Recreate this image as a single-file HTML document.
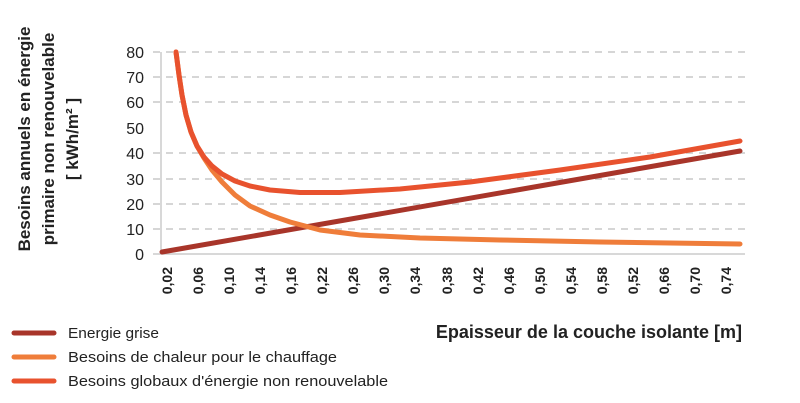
<!DOCTYPE html>
<html><head><meta charset="utf-8"><style>
html,body{margin:0;padding:0;background:#fff;}
svg{display:block;font-family:"Liberation Sans",sans-serif;}
</style></head><body>
<svg width="800" height="403" viewBox="0 0 800 403">
<g stroke="#c8c8c8" stroke-width="1.5" stroke-dasharray="7,6">
<line x1="153" y1="52" x2="745" y2="52"/>
<line x1="153" y1="77" x2="745" y2="77"/>
<line x1="153" y1="102" x2="745" y2="102"/>
<line x1="153" y1="153" x2="745" y2="153"/>
<line x1="153" y1="179" x2="745" y2="179"/>
<line x1="153" y1="204" x2="745" y2="204"/>
<line x1="153" y1="229" x2="745" y2="229"/>
</g>
<line x1="161" y1="52" x2="161" y2="254" stroke="#ccc" stroke-width="1.5"/>
<line x1="153" y1="254" x2="745" y2="254" stroke="#ccc" stroke-width="1.5"/>
<g font-size="16" fill="#222" text-anchor="end">
<text x="144" y="58">80</text><text x="144" y="83">70</text><text x="144" y="108">60</text>
<text x="144" y="134">50</text><text x="144" y="159">40</text><text x="144" y="185">30</text>
<text x="144" y="210">20</text><text x="144" y="235">10</text><text x="144" y="260">0</text>
</g>
<g font-size="14" font-weight="bold" fill="#222" text-anchor="end">
<text transform="translate(172,267) rotate(-90)">0,02</text>
<text transform="translate(203,267) rotate(-90)">0,06</text>
<text transform="translate(234,267) rotate(-90)">0,10</text>
<text transform="translate(265,267) rotate(-90)">0,14</text>
<text transform="translate(296,267) rotate(-90)">0,16</text>
<text transform="translate(327,267) rotate(-90)">0,22</text>
<text transform="translate(358,267) rotate(-90)">0,26</text>
<text transform="translate(389,267) rotate(-90)">0,30</text>
<text transform="translate(420,267) rotate(-90)">0,34</text>
<text transform="translate(452,267) rotate(-90)">0,38</text>
<text transform="translate(483,267) rotate(-90)">0,42</text>
<text transform="translate(514,267) rotate(-90)">0,46</text>
<text transform="translate(545,267) rotate(-90)">0,50</text>
<text transform="translate(576,267) rotate(-90)">0,54</text>
<text transform="translate(607,267) rotate(-90)">0,58</text>
<text transform="translate(638,267) rotate(-90)">0,52</text>
<text transform="translate(669,267) rotate(-90)">0,66</text>
<text transform="translate(700,267) rotate(-90)">0,70</text>
<text transform="translate(731,267) rotate(-90)">0,74</text>
</g>
<g fill="none" stroke-width="5" stroke-linecap="round" stroke-linejoin="round">
<path d="M162,252 L740,151" stroke="#a8352a"/>
<polyline points="176,52 179,75 182,95 186,115 191,132 197,146 204,158 212,170 222,182 235,195 250,206 270,215 290,222 320,230 360,235 420,238 500,240 600,242 740,244" stroke="#ef7d3a"/>
<polyline points="176,52 179,75 182,95 186,115 191,132 197,146 204,157 212,166 222,174 235,181 250,186 270,190 300,192.5 340,192.5 400,189 470,182 560,170 650,157 740,141" stroke="#e8522e"/>
</g>
<g font-size="17" font-weight="bold" fill="#222" text-anchor="middle">
<text transform="translate(30,139) rotate(-90)">Besoins annuels en énergie</text>
<text transform="translate(54,139) rotate(-90)">primaire non renouvelable</text>
<text transform="translate(78,139) rotate(-90)">[ kWh/m² ]</text>
</g>
<text x="742" y="338" font-size="18" font-weight="bold" fill="#222" text-anchor="end">Epaisseur de la couche isolante [m]</text>
<g stroke-width="5" stroke-linecap="round">
<line x1="14" y1="333" x2="54" y2="333" stroke="#a8352a"/>
<line x1="14" y1="357" x2="54" y2="357" stroke="#ef7d3a"/>
<line x1="14" y1="381" x2="54" y2="381" stroke="#e8522e"/>
</g>
<g font-size="15" fill="#222">
<text x="68" y="338" textLength="91" lengthAdjust="spacingAndGlyphs">Energie grise</text>
<text x="68" y="362" textLength="269" lengthAdjust="spacingAndGlyphs">Besoins de chaleur pour le chauffage</text>
<text x="68" y="386" textLength="320" lengthAdjust="spacingAndGlyphs">Besoins globaux d'énergie non renouvelable</text>
</g>
</svg>
</body></html>
